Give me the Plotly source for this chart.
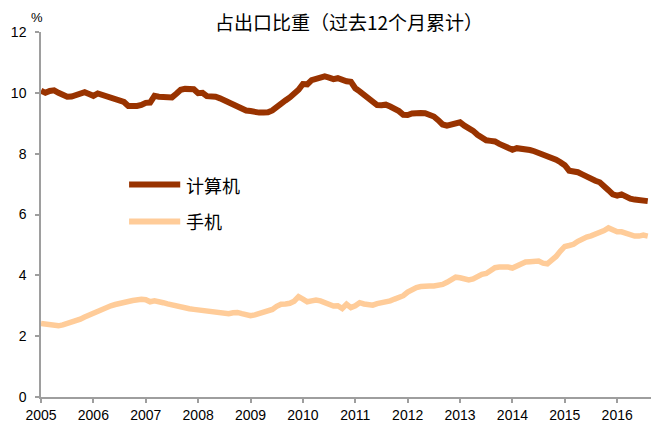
import plotly.graph_objects as go

start_year = 2005
series_names = ["计算机", "手机"]
series_colors = ["#993300", "#FFCC99"]
computer = [
    10.07, 10.00, 10.06, 10.08, 10.00, 9.92, 9.87, 9.88, 9.93, 9.97, 10.02, 9.96,
    9.90, 9.98, 9.94, 9.90, 9.82, 9.80, 9.79, 9.70, 9.57, 9.55, 9.57, 9.60,
    9.67, 9.68, 9.90, 9.87, 9.85, 9.83, 9.85, 9.97, 10.10, 10.13, 10.13, 10.12,
    9.99, 10.00, 9.89, 9.90, 9.87, 9.82, 9.75, 9.66, 9.60, 9.54, 9.48, 9.42,
    9.40, 9.36, 9.35, 9.35, 9.36, 9.42, 9.55, 9.65, 9.75, 9.85, 9.97, 10.10,
    10.29, 10.28, 10.42, 10.45, 10.50, 10.54, 10.50, 10.45, 10.48, 10.42, 10.38, 10.36,
    10.15, 10.05, 9.95, 9.82, 9.70, 9.60, 9.59, 9.61, 9.55, 9.48, 9.40, 9.28,
    9.27, 9.32, 9.34, 9.34, 9.33, 9.30, 9.22, 9.10, 8.96, 8.92, 8.97, 9.02,
    9.03, 8.92, 8.86, 8.75, 8.62, 8.50, 8.44, 8.42, 8.40, 8.32, 8.26, 8.20,
    8.13, 8.18, 8.17, 8.14, 8.12, 8.08, 8.03, 7.96, 7.91, 7.86, 7.80, 7.72,
    7.62, 7.44, 7.42, 7.39, 7.32, 7.24, 7.17, 7.11, 7.06, 6.95, 6.80, 6.66,
    6.62, 6.66, 6.57, 6.52, 6.49, 6.46, 6.45, 6.44,
]
phone = [
    2.42, 2.40, 2.37, 2.35, 2.34, 2.37, 2.41, 2.46, 2.50, 2.56, 2.63, 2.70,
    2.74, 2.82, 2.89, 2.96, 3.00, 3.04, 3.06, 3.08, 3.14, 3.17, 3.21, 3.21,
    3.20, 3.13, 3.16, 3.15, 3.10, 3.06, 3.02, 2.98, 2.95, 2.92, 2.90, 2.88,
    2.86, 2.85, 2.82, 2.80, 2.79, 2.77, 2.75, 2.74, 2.77, 2.78, 2.74, 2.69,
    2.67, 2.70, 2.74, 2.76, 2.82, 2.88, 2.98, 3.05, 3.06, 3.08, 3.15, 3.30,
    3.22, 3.13, 3.16, 3.19, 3.16, 3.10, 3.02, 2.99, 3.00, 2.91, 3.05, 2.94,
    3.00, 3.10, 3.06, 3.04, 3.02, 3.07, 3.10, 3.10, 3.16, 3.22, 3.26, 3.33,
    3.45, 3.54, 3.60, 3.63, 3.66, 3.65, 3.65, 3.66, 3.70, 3.77, 3.86, 3.94,
    3.92, 3.87, 3.85, 3.88, 3.97, 4.03, 4.06, 4.15, 4.25, 4.27, 4.28, 4.27,
    4.24, 4.30, 4.38, 4.44, 4.45, 4.46, 4.47, 4.40, 4.38, 4.50, 4.62, 4.80,
    4.95, 4.98, 5.02, 5.12, 5.20, 5.26, 5.30, 5.35, 5.42, 5.47, 5.56, 5.47,
    5.43, 5.43, 5.38, 5.32, 5.29, 5.29, 5.32, 5.29,
]
x_vals = [start_year + i / 12 for i in range(len(computer))]
year_ticks = list(range(2005, 2017))
y_ticks = [0, 2, 4, 6, 8, 10, 12]

fig = go.Figure()
fig.add_trace(go.Scatter(x=x_vals, y=computer, mode="lines", name=series_names[0],
                         line=dict(color=series_colors[0], width=6)))
fig.add_trace(go.Scatter(x=x_vals, y=phone, mode="lines", name=series_names[1],
                         line=dict(color=series_colors[1], width=5.5)))

# custom legend (longer line samples, as in the reference)
legend_rows_y = [0.582, 0.481]
shapes = []
annotations = []
for name, color, ly in zip(series_names, series_colors, legend_rows_y):
    shapes.append(dict(type="line", xref="paper", yref="paper", x0=0.143, x1=0.226,
                       y0=ly, y1=ly, line=dict(color=color, width=6)))
    annotations.append(dict(text=name, xref="paper", yref="paper", x=0.232, y=ly,
                            xanchor="left", yanchor="middle", showarrow=False,
                            font=dict(family="Noto Sans CJK SC, sans-serif", size=18,
                                      color="#000000")))
annotations.append(dict(text="%", xref="paper", yref="paper", x=-0.007, y=1.0,
                        xanchor="center", yanchor="bottom", yshift=5, showarrow=False,
                        font=dict(family="Liberation Sans, Arial, sans-serif", size=13,
                                  color="#000000")))

axis_font = dict(family="Liberation Sans, Arial, sans-serif", size=14, color="#000000")
# page body has an 8px margin: compensate so the plot area lands where it should
fig.update_layout(
    width=651, height=417,
    margin=dict(l=33, r=2, t=24, b=19),
    plot_bgcolor="white", paper_bgcolor="white",
    showlegend=False,
    title=dict(text="占出口比重（过去12个月累计）", x=0.5, xanchor="center",
               xref="paper", y=1 - 15 / 417, yanchor="middle",
               font=dict(family="Noto Sans CJK SC, sans-serif", size=19, color="#000000")),
    xaxis=dict(range=[2005, 2016.76], tickvals=year_ticks,
               ticktext=[str(y) for y in year_ticks],
               showgrid=False, zeroline=False, showline=True,
               linecolor="#9E9E9E", linewidth=1.5,
               ticks="outside", ticklen=4, tickcolor="#9E9E9E", tickwidth=1.5,
               tickfont=axis_font),
    yaxis=dict(range=[0, 12], tickvals=y_ticks,
               showgrid=False, zeroline=False, showline=True,
               linecolor="#9E9E9E", linewidth=1.5,
               ticks="outside", ticklen=4, tickcolor="#9E9E9E", tickwidth=1.5,
               ticklabelstandoff=6, tickfont=axis_font),
    shapes=shapes,
    annotations=annotations,
)

fig.write_html("out.html")
